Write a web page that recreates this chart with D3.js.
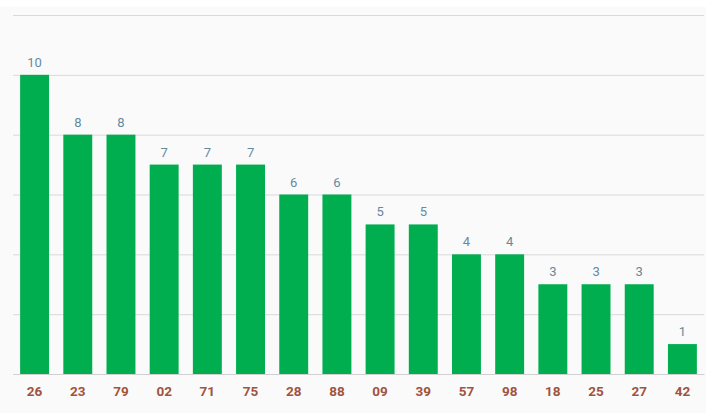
<!DOCTYPE html>
<html><head><meta charset="utf-8">
<script src="https://cdn.jsdelivr.net/npm/d3@7/dist/d3.min.js"></script>
<style>body{margin:0;background:#fff;} svg{display:block;font-family:Roboto, sans-serif;}</style>
</head><body><svg id="c" width="717" height="420"></svg>
<script>
const categories = ["26","23","79","02","71","75","28","88","09","39","57","98","18","25","27","42"];
const values = [10,8,8,7,7,7,6,6,5,5,4,4,3,3,3,1];
const yTicks = [0,2,4,6,8,10,12];

(function(){
const svg = d3.select("#c");
const mLeft = 13, mRight = 704, mTop = 15, mBottom = 374;

svg.append("rect").attr("x",0).attr("y",7).attr("width",706).attr("height",406).attr("fill","#fafafa");

const x = d3.scaleBand().domain(categories).range([mLeft,mRight]).paddingInner(0.33).paddingOuter(0.165);
const y = d3.scaleLinear().domain([0,12]).range([mBottom,mTop]);

const grid = svg.append("g").attr("transform",`translate(${mLeft},0)`)
  .call(d3.axisLeft(y).tickValues(yTicks).tickSize(-(mRight-mLeft)).tickFormat(""));
grid.select(".domain").remove();
grid.selectAll(".tick line").attr("stroke","#d9d9d9").attr("stroke-width",1);

svg.append("g").selectAll("rect").data(values).join("rect")
  .attr("x",(d,i)=>x(categories[i])).attr("width",x.bandwidth())
  .attr("y",d=>y(d)).attr("height",d=>y(0)-y(d)).attr("fill","#00ae4f");

svg.append("g").selectAll("text").data(values).join("text")
  .attr("x",(d,i)=>x(categories[i])+x.bandwidth()/2).attr("y",d=>y(d)-8)
  .attr("text-anchor","middle").attr("font-size",13).attr("fill","#648aa0").text(d=>d);

const xa = svg.append("g").attr("transform",`translate(0,${mBottom})`)
  .call(d3.axisBottom(x).tickSize(0).tickPadding(12));
xa.select(".domain").attr("stroke","#d0d0d0");
xa.selectAll("text").attr("font-family","Roboto, sans-serif").attr("font-size",13.5)
  .attr("font-weight","bold").attr("fill","#a0533e");
})();
</script></body></html>
